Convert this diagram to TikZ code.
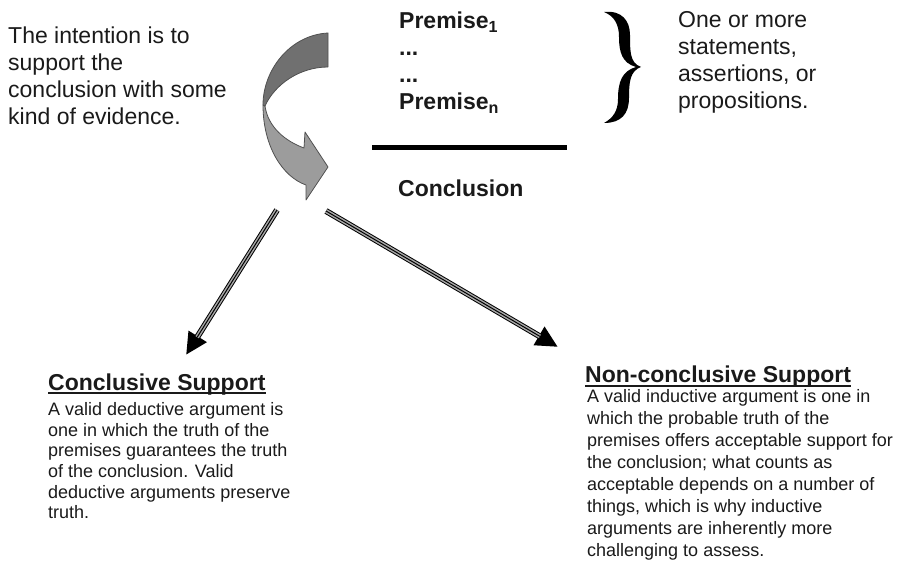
\documentclass[tikz,border=0pt]{standalone}
\usepackage{fontspec}
\setmainfont{Liberation Sans}
\usetikzlibrary{arrows.meta}
\definecolor{txt}{HTML}{1A1A1A}
\definecolor{banddark}{HTML}{707070}
\definecolor{bandlight}{HTML}{9C9C9C}
\definecolor{bandedge}{HTML}{505050}
\definecolor{shaftgray}{HTML}{A8A8A8}
\tikzset{
  bigtext/.style={font=\fontsize{23}{27}\selectfont, inner sep=0pt, align=left, anchor=north west, text=txt},
  bigbold/.style={font=\fontsize{23}{27}\selectfont\bfseries, inner sep=0pt, align=left, anchor=north west, text=txt},
  headtext/.style={font=\fontsize{23}{27}\selectfont\bfseries, inner sep=0pt, anchor=base west, text=txt},
  bodyL/.style={font=\fontsize{18}{20.7}\selectfont, inner sep=0pt, align=left, anchor=north west, text=txt},
  bodyR/.style={font=\fontsize{18}{21.9}\selectfont, inner sep=0pt, align=left, anchor=north west, text=txt},
  shaftout/.style={line width=6pt, draw=black, -{Triangle[length=22pt,width=20pt]}},
  shaftmid/.style={line width=4pt, draw=shaftgray, shorten >=21pt},
  shaftin/.style={line width=1pt, draw=black, shorten >=21pt},
  band/.style={draw=bandedge, line width=0.8pt, line join=round}
}
\begin{document}
\begin{tikzpicture}[x=1pt,y=-1pt]
\useasboundingbox (0,0) rectangle (900,561);

% top-left text
\node[bigtext] (intent) at (8,26.5) {The intention is to\\support the\\conclusion with some\\kind of evidence.};

% premises
\node[bigbold] (prem) at (399,11.5) {Premise\textsubscript{1}\\...\\...\\Premise\textsubscript{n}};
\draw[line width=5pt, black] (372,148) -- (567,148);
\node[headtext] (concl) at (398,197) {Conclusion};

% brace
\fill[black] (604,12) .. controls (622,10) and (630,21) .. (630,35)
  .. controls (630,52) and (630,63) .. (641,67)
  .. controls (630,71) and (629,82) .. (629,98)
  .. controls (629,114) and (621,123) .. (604,123)
  .. controls (613,118) and (618,111) .. (618,99)
  .. controls (618,82) and (622,71) .. (636,67)
  .. controls (622,63) and (619,52) .. (619,37)
  .. controls (619,24) and (614,16) .. (604,12) -- cycle;
\node[bigtext] (stmts) at (678,11.5) {One or more\\statements,\\assertions, or\\propositions.};

% curved arrow
\path[band, fill=bandlight] (263,105) .. controls (263,147) and (283,177) .. (306,185)
  -- (306,200) -- (328,167) -- (305,132) -- (304,148)
  .. controls (285,141) and (268,127) .. (265,106) -- cycle;
\path[band, fill=banddark] (328,33) .. controls (290,35) and (263,70) .. (263,105)
  -- (265,106) .. controls (275,84) and (300,67) .. (328,67) -- cycle;

% straight arrows
\coordinate (s1) at (277,210);
\coordinate (t1) at (186,355);
\coordinate (s2) at (326,211);
\coordinate (t2) at (558,347);
\draw[shaftout] (s1) -- (t1);
\draw[shaftmid] (s1) -- (t1);
\draw[shaftin] (s1) -- (t1);
\draw[shaftout] (s2) -- (t2);
\draw[shaftmid] (s2) -- (t2);
\draw[shaftin] (s2) -- (t2);

% left block
\node[headtext] (h1) at (48,390) {Conclusive Support};
\draw[line width=1.6pt, txt] ([yshift=-3pt]h1.base west) -- ([yshift=-3pt]h1.base east);
\node[bodyL] (b1) at (48,402.1) {A valid deductive argument is\\one in which the truth of the\\premises guarantees the truth\\of the conclusion. Valid\\deductive arguments preserve\\truth.};

% right block
\node[headtext] (h2) at (585,383) {Non-conclusive Support};
\draw[line width=1.6pt, txt] ([yshift=-3pt]h2.base west) -- ([yshift=-3pt]h2.base east);
\node[bodyR] (b2) at (587,389.5) {A valid inductive argument is one in\\which the probable truth of the\\premises offers acceptable support for\\the conclusion; what counts as\\acceptable depends on a number of\\things, which is why inductive\\arguments are inherently more\\challenging to assess.};
\end{tikzpicture}
\end{document}
